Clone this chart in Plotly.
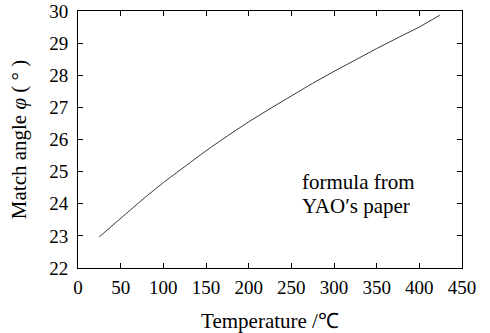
import plotly.graph_objects as go

temperature = [25, 50, 75, 100, 125, 150, 175, 200, 225, 250, 275, 300, 325, 350, 375, 400, 424]
match_angle = [22.97, 23.55, 24.12, 24.66, 25.16, 25.65, 26.11, 26.55, 26.96, 27.36, 27.75,
               28.12, 28.48, 28.83, 29.17, 29.50, 29.87]
x_ticks = [0, 50, 100, 150, 200, 250, 300, 350, 400, 450]
y_ticks = [22, 23, 24, 25, 26, 27, 28, 29, 30]

font = "Liberation Serif, Times New Roman, serif"
W, H = 490, 333
L, R, T, B = 78, 28, 11, 65

fig = go.Figure()
fig.add_trace(go.Scatter(x=temperature, y=match_angle, mode="lines",
                         line=dict(color="#3a3a3a", width=1), showlegend=False))

pw, ph = W - L - R, H - T - B
def px2paper(px, py):
    return (px - L) / pw, 1 - (py - T) / ph

for txt, py in [("formula from", 182), ("YAO′s paper", 206)]:
    ax, ay = px2paper(300, py)
    fig.add_annotation(x=ax, y=ay, xref="paper", yref="paper", text=txt, showarrow=False,
                       xanchor="left", yanchor="middle",
                       font=dict(family=font, size=21, color="black"))

axis_common = dict(showline=True, linecolor="black", linewidth=1, mirror="ticks",
                   ticks="inside", ticklen=5, tickcolor="black", showgrid=False,
                   zeroline=False, automargin=False,
                   tickfont=dict(family=font, size=19, color="black"))

fig.update_xaxes(range=[0, 450], tickvals=x_ticks, ticklabelstandoff=2,
                 title=dict(text="Temperature /℃", font=dict(family=font, size=21, color="black"),
                            standoff=23), **axis_common)
fig.update_yaxes(range=[22, 30], tickvals=y_ticks, ticklabelstandoff=5,
                 title=dict(text="Match angle <i>φ</i> ( ° )", font=dict(family=font, size=21, color="black"),
                            standoff=16), **axis_common)

fig.update_layout(width=W, height=H, margin=dict(l=L, r=R, t=T, b=B),
                  plot_bgcolor="white", paper_bgcolor="white")

fig.write_html("out.html", config={"displayModeBar": False},
               post_script="document.body.style.margin='0';document.body.style.overflow='hidden';")
